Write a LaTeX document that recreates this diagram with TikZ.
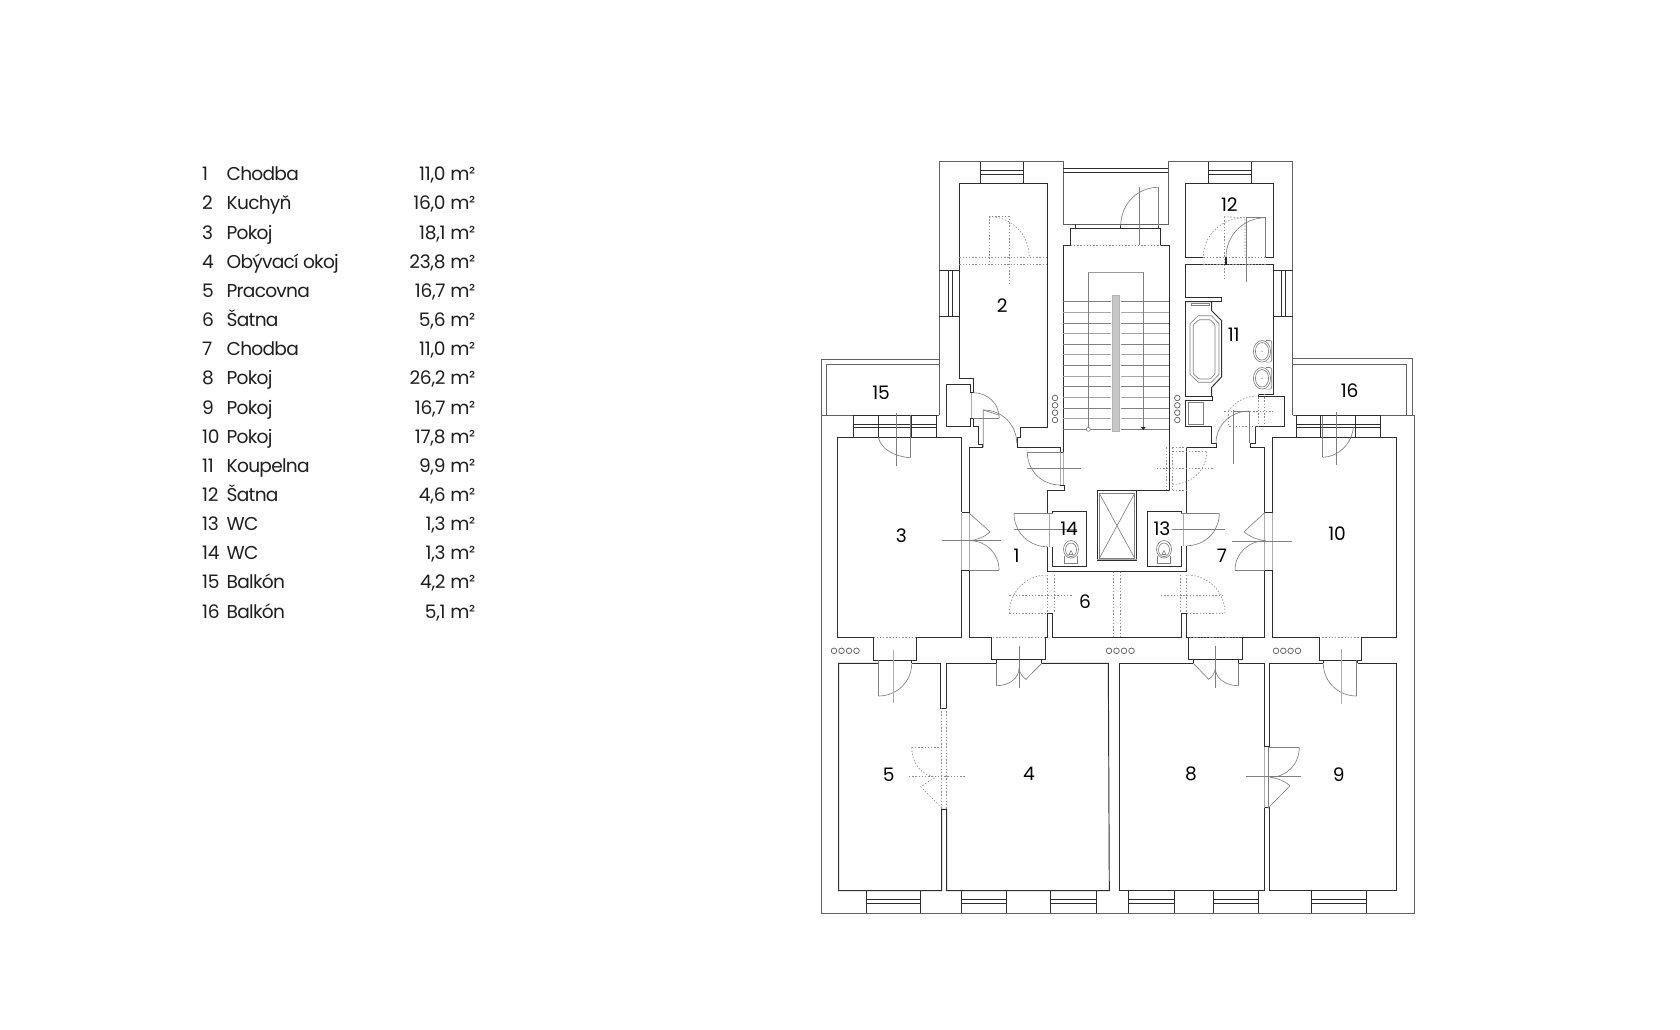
\documentclass[tikz,border=0pt]{standalone}
\usepackage{fontspec}
\setmainfont{Poppins}[LetterSpace=-1.5]
\newfontfamily\namefont{Poppins}[LetterSpace=-4]
\usetikzlibrary{calc}
\tikzset{
 wall/.style={draw=black!82,line width=0.95pt,line join=miter},
 thin wall/.style={draw=black!62,line width=0.85pt},
 dr/.style={draw=black!50,line width=0.65pt},
 drlight/.style={draw=black!32,line width=0.9pt},
 dot/.style={draw=black!45,line width=0.65pt,dash pattern=on 1.4pt off 1.8pt},
 listtxt/.style={inner sep=0pt,font=\fontsize{18.6}{20}\selectfont,text=black!88},
 num/.style={inner sep=0pt,font=\fontsize{18.6}{20}\selectfont,text=black},
 vent/.style={draw=black!65,line width=0.7pt}
}
% quarter arc: start, corner, end
\newcommand{\qa}[4]{\draw[#1] (#2) .. controls ($(#2)!.56!(#3)$) and ($(#4)!.56!(#3)$) .. (#4);}
\newcommand{\listrow}[4]{%
 \node[listtxt,anchor=base west] (n#1) at (202,#4) {#1};
 \node[listtxt,anchor=base west] (t#1) at (226.5,#4) {\namefont #2};
 \node[listtxt,anchor=base east] (a#1) at (475.5,#4) {#3 m²};}
\begin{document}
\begin{tikzpicture}[x=1pt,y=-1pt]
\useasboundingbox[fill=white] (0,0) rectangle (1680,1029);
% legend
\listrow{1}{Chodba}{11,0}{180.7}
\listrow{2}{Kuchyň}{16,0}{209.9}
\listrow{3}{Pokoj}{18,1}{239.0}
\listrow{4}{Obývací okoj}{23,8}{268.2}
\listrow{5}{Pracovna}{16,7}{297.3}
\listrow{6}{Šatna}{5,6}{326.5}
\listrow{7}{Chodba}{11,0}{355.7}
\listrow{8}{Pokoj}{26,2}{384.8}
\listrow{9}{Pokoj}{16,7}{414.0}
\listrow{10}{Pokoj}{17,8}{443.1}
\listrow{11}{Koupelna}{9,9}{472.3}
\listrow{12}{Šatna}{4,6}{501.5}
\listrow{13}{WC}{1,3}{530.6}
\listrow{14}{WC}{1,3}{559.8}
\listrow{15}{Balkón}{4,2}{588.9}
\listrow{16}{Balkón}{5,1}{618.1}
% ---------- outer shell
\draw[thin wall] (939.3,415) -- (939.3,161.7) -- (1063.3,161.7) -- (1063.3,224) -- (1168.3,224) -- (1168.3,161.7) -- (1292.5,161.7) -- (1292.5,415);
\draw[thin wall] (821,415) -- (821,359) -- (940,359);
\draw[thin wall] (826,415) -- (826,364.7) -- (940,364.7);
\draw[thin wall] (1292.5,358.7) -- (1412.7,358.7) -- (1412.7,415);
\draw[thin wall] (1292.5,364) -- (1406.7,364) -- (1406.7,415);
\draw[thin wall] (821,415) -- (821,913.3) -- (1414,913.3) -- (1414,415) -- (1380,415);
\draw[thin wall] (821,415) -- (853.3,415) (936.7,415) -- (939.3,415);
\draw[thin wall] (1292.5,415) -- (1296.7,415);
\draw[wall] (1063.3,168.3) -- (1168.3,168.3);
\draw[wall] (1063.3,172.3) -- (1168.3,172.3);
% ---------- windows (top)
\foreach \xa/\xb in {980.7/1023.3,1208.3/1251.7}{
 \draw[wall] (\xa,161.7) -- (\xa,183.7) (\xb,161.7) -- (\xb,183.7);
 \draw[wall] (\xa,170.7) -- (\xb,170.7) (\xa,174) -- (\xb,174);
}
% windows (tower sides)
\foreach \xa/\xb/\xc/\xd in {939.3/959.3/948.3/952.3,1273.3/1292.5/1281.7/1285.7}{
 \draw[wall] (\xa,270) -- (\xb,270) (\xa,316) -- (\xb,316);
 \draw[wall] (\xc,270) -- (\xc,316) (\xd,270) -- (\xd,316);
}
% balcony windows
\draw[wall] (853.3,415) rectangle (936.7,437.3);
\draw[wall] (878.3,415) -- (878.3,437.3) (911.7,415) -- (911.7,437.3);
\draw[wall] (853.3,424.7) -- (936.7,424.7) (853.3,427.7) -- (936.7,427.7);
\draw[wall] (1296.7,415) rectangle (1380,437.3);
\draw[wall] (1320.7,415) -- (1320.7,437.3) (1355,415) -- (1355,437.3);
\draw[wall] (1296.7,424.3) -- (1380,424.3) (1296.7,427.3) -- (1380,427.3);
% bottom windows
\foreach \xa/\xb in {866/920.7,961.7/1006.7,1050.7/1096,1128.3/1174,1213.3/1258.3,1311.7/1366}{
 \draw[wall] (\xa,890.7) -- (\xa,913.3) (\xb,890.7) -- (\xb,913.3);
 \draw[wall] (\xa,899.3) -- (\xb,899.3) (\xa,903.3) -- (\xb,903.3);
}
% ---------- kitchen
\draw[wall] (973.3,392.7) -- (973.3,378.5) -- (959.3,378.5) -- (959.3,183.7) -- (1047.3,183.7) -- (1047.3,427) -- (1020.7,427) -- (1020.7,437.3) -- (1017,437.3) -- (1017,447.3) -- (1060,447.3) -- (1060,452);
\draw[wall] (973.3,392.7) -- (970,392.7) -- (970,384.3) -- (946,384.3) -- (946,426.3) -- (970,426.3) -- (970,418.3) -- (973.3,418.3) -- (973.3,426.3) -- (978.3,426.3) -- (978.3,444) -- (982.7,444) -- (982.7,447.3) -- (969.3,447.3) -- (969.3,512.3) -- (961.7,512.3);
\draw[dot] (959.3,257.3) -- (1047.3,257.3) (959.3,264.3) -- (1047.3,264.3);
\draw[dot] (1009.3,216.7) -- (989.3,216.7) -- (989.3,264.3);
\draw[dot] (1009.3,215.7) -- (1009.3,286);
\qa{dot}{989.3,216.7}{1029.3,216.7}{1029.3,257.3}
% kitchen doors
\draw[drlight] (971.6,392.7) -- (971.6,418.3);
\qa{dr}{973.3,392.7}{999.3,392.7}{999.3,418.3}
\draw[dr] (973.3,418.3) -- (999.3,418.3);
\qa{dr}{983.3,410}{1016.7,410}{1016.7,443.3}
\draw[dr] (983.3,447.3) -- (983.3,410) -- (999,415);
% ---------- room 3
\draw[wall] (961.7,512.3) -- (961.7,437.3) -- (837,437.3) -- (837,637.3) -- (873.3,637.3);
\draw[wall] (916,637.3) -- (961.7,637.3) -- (961.7,570) -- (969.3,570) -- (969.3,637.3) -- (991.7,637.3);
\draw[dot] (873.3,637.3) -- (916,637.3);
\draw[drlight] (961.7,513.3) -- (961.7,570) (969.3,513.3) -- (969.3,570);
\draw[dr] (969.3,513.3) -- (990,531.7) .. controls (985,537) and (976,540) .. (970,540.7);
\qa{dr}{970,540.7}{999,540.7}{999,570}
\draw[dr] (969.3,570) -- (999,570);
\draw[dr] (941.7,540.7) -- (1000.7,540.7);
% balcony 15 door
\draw[dr] (910,415) -- (910,457.7);
\draw[dr] (878.3,437.3) .. controls (881,449) and (894,456.5) .. (910,457.7);
\draw[dr] (896.7,412.7) -- (896.7,465.7);
% ---------- room 10
\draw[wall] (1272,512.7) -- (1272,437.3) -- (1396.7,437.3) -- (1396.7,637.3) -- (1361,637.3);
\draw[wall] (1319,637.3) -- (1272,637.3) -- (1272,570) -- (1264.7,570) -- (1264.7,637.3) -- (1242.3,637.3);
\draw[wall] (1272,512.7) -- (1264.7,512.7) -- (1264.7,447.3) -- (1250,447.3) -- (1250,443.3) -- (1255.3,443.3) -- (1255.3,426) -- (1284,426) -- (1284,396.7) -- (1258.7,396.7) -- (1258.7,394) -- (1273.3,394) -- (1273.3,264.7) -- (1226,264.7);
\draw[dot] (1319,637.3) -- (1361,637.3);
\draw[drlight] (1264.7,513.3) -- (1264.7,570) (1272,513.3) -- (1272,570);
\draw[dr] (1264.7,512.7) -- (1244,531.7) .. controls (1250,537) and (1258,540) .. (1265.7,540.7);
\qa{dr}{1265.7,540.7}{1235,540.7}{1235,570}
\draw[dr] (1235,570) -- (1264.7,570);
\draw[dr] (1232.3,541.3) -- (1292,541.3);
% balcony 16 door
\draw[dr] (1322.7,416) -- (1322.7,457.3);
\draw[dr] (1322.7,457.3) .. controls (1338,457) and (1352,444) .. (1353.3,427.3);
\draw[dr] (1336.7,412.3) -- (1336.7,465);
% ---------- centre: corridors, WC, shaft
\draw[wall] (1063.3,245) -- (1063.3,452) -- (1060,452);
\draw[wall] (1060,485) -- (1064,485) -- (1064,490.7) -- (1047.3,490.7) -- (1047.3,513.3);
\draw[wall] (1047.3,546.7) -- (1047.3,571.7) -- (1186.7,571.7) -- (1186.7,545.7);
\draw[wall] (1186.7,513.3) -- (1186.7,447.3) -- (1216,447.3) -- (1216,443.3) -- (1211.7,443.3) -- (1211.7,426) -- (1185.7,426) -- (1185.7,400.7) -- (1212.3,400.7) -- (1212.3,396.7) -- (1185.3,396.7) -- (1185.3,301.7) -- (1221.7,301.7) -- (1221.7,297.3) -- (1185.3,297.3) -- (1185.3,264.7) -- (1226,264.7);
\draw[wall] (1169.3,245) -- (1169.3,490) -- (1136.7,490) -- (1136.7,560.7) -- (1097.3,560.7) -- (1097.3,490.7) -- (1136.7,490.7);
\draw[wall] (1052.7,513.3) -- (1052.7,511.3) -- (1086.7,511.3) -- (1086.7,566.7) -- (1052.7,566.7) -- (1052.7,546.7);
\draw[wall] (1181,513.3) -- (1181,511.3) -- (1147.3,511.3) -- (1147.3,566.7) -- (1181,566.7) -- (1181,545.7);
% shaft
\draw[dr] (1099.3,493.3) rectangle (1134.7,558.3);
\draw[dr] (1099.3,493.3) -- (1134.7,558.3) (1134.7,493.3) -- (1099.3,558.3);
\draw[drlight] (1097.3,559.5) -- (1136.7,559.5);
% WC doors
\draw[drlight] (1049.8,513.3) -- (1049.8,546.7);
\draw[dr] (1014,513.3) -- (1052.7,513.3);
\qa{dr}{1014,513.3}{1014,546.7}{1047.3,546.7}
\draw[dr] (1014,529.3) -- (1076.7,529.3);
\draw[drlight] (1183.8,513.3) -- (1183.8,545.7);
\draw[dr] (1181,513.3) -- (1219.3,513.3);
\qa{dr}{1219.3,513.3}{1219.3,545.7}{1186.7,545.7}
\draw[dr] (1171.7,529.3) -- (1225,529.3);
% toilets
\foreach \cx in {1071,1164}{
 \draw[dr] (\cx,549.3) ellipse (7.5 and 8.8);
 \draw[dr] (\cx,549.8) ellipse (5.5 and 6.8);
 \draw[dr] (\cx-6.8,556) -- (\cx-6.8,563) -- (\cx+6.8,563) -- (\cx+6.8,556);
 \draw[dr] (\cx-2,554.5) -- (\cx,550.5) -- (\cx+2,554.5) -- cycle;
}
% door stair-corridor left
\draw[drlight] (1060,452) -- (1060,485) (1063.3,452) -- (1063.3,485);
\draw[dr] (1027.3,452) -- (1060,452);
\qa{dr}{1027.3,452}{1027.3,485}{1060,485}
\draw[dr] (1026.7,468) -- (1080.7,468);
% door stair-corridor right, dotted
\draw[dot] (1166.7,447.3) -- (1166.7,490) (1172.7,447.3) -- (1172.7,490);
\draw[dot] (1172.7,447.3) -- (1186,447.3) (1172.7,490) -- (1186,490);
\draw[dot] (1172.7,451.7) -- (1206.7,451.7);
\qa{dot}{1206.7,451.7}{1206.7,484.3}{1172.7,484.3}
\draw[dot] (1156.7,468.3) -- (1212.7,468.3);
% room 6
\draw[wall] (1047.3,613.3) -- (1052.7,613.3) -- (1052.7,637.3) -- (1181,637.3) -- (1181,613.3) -- (1186.7,613.3) -- (1186.7,637.3) -- (1188.3,637.3);
\draw[wall] (1047.3,613.3) -- (1047.3,637.3) -- (1045,637.3);
\draw[wall] (1186.7,637.3) -- (1264.7,637.3);
\draw[dot] (1113.3,571.7) -- (1113.3,637.3) (1120,571.7) -- (1120,637.3);
\draw[dot] (1047.3,575) -- (1047.3,613.3) (1054,575) -- (1054,613.3);
\draw[dot] (1009.3,613.3) -- (1047.3,613.3);
\qa{dot}{1009.3,613.3}{1009.3,575}{1047.3,575}
\draw[dot] (1009.3,595) -- (1073.3,595);
\draw[dot] (1180,575) -- (1180,613.3) (1186.7,575) -- (1186.7,613.3);
\draw[dot] (1186.7,613.3) -- (1225,613.3);
\qa{dot}{1225,613.3}{1225,575}{1186.7,575}
\draw[dot] (1161,595) -- (1225,595);
% ---------- top balcony / stair head
\draw[wall] (1063.3,245) -- (1070.7,245) -- (1070.7,228.3) -- (1160.7,228.3) -- (1160.7,245) -- (1169.3,245);
\draw[wall] (1075,224) -- (1075,228.3) (1120,224) -- (1120,228.3) (1158.3,224) -- (1158.3,228.3);
\draw[dot] (1070.7,245) -- (1160.7,245);
\draw[dr] (1158.3,187.3) -- (1158.3,226);
\qa{dr}{1158.3,187.3}{1120.7,187.3}{1120.7,226}
\draw[dr] (1139.3,186.7) -- (1139.3,245);
% stairs
\foreach \i in {0,2,...,12}{\draw[dr] (1063.3,{301.7+10.63*\i}) -- (1169.3,{301.7+10.63*\i});}
\foreach \i in {1,3,...,11}{\draw[draw=black!35,line width=1.1pt] (1063.3,{301.7+10.63*\i}) -- (1169.3,{301.7+10.63*\i});}
\draw[dr] (1088.3,429.3) -- (1088.3,272.3);
\draw[draw=black!40,line width=0.8pt] (1088.3,272.3) -- (1143.3,272.3);
\draw[dr] (1143.3,272.3) -- (1143.3,427);
\fill[black!85] (1141,427) -- (1145.7,427) -- (1143.3,430) -- cycle;
\draw[dr,fill=white] (1088.3,429.3) circle (2);
\fill[white] (1111,295.7) rectangle (1121,431);
\draw[draw=black!30,fill=black!22,line width=0.5pt] (1112.7,295.7) rectangle (1119.3,431);
% circles
\foreach \yy in {398,405.3,412.7,420}{
 \draw[vent] (1055,\yy) circle (2.8);
 \draw[vent] (1177.3,\yy) circle (2.8);
}
\foreach \xx in {834,841.5,849,856.5,1109,1116.5,1124,1131.5,1276,1283.3,1290.6,1298}{
 \draw[vent] (\xx,650.8) circle (2.8);
}
% ---------- room 12 + bath
\draw[wall] (1203.3,257.3) -- (1185.3,257.3) -- (1185.3,183.7) -- (1273.3,183.7) -- (1273.3,257.3) -- (1265.7,257.3);
\draw[dot] (1203.3,257.3) -- (1265.7,257.3) (1203.3,264.7) -- (1265.7,264.7);
\draw[line width=1.3pt,draw=black!85] (1226,257.3) -- (1226,264.7);
\draw[dot] (1224,216.7) -- (1245,217.7) -- (1245,257.3);
\draw[dot] (1224,217) -- (1224,280.7);
\qa{dot}{1245,217.7}{1203.3,217.7}{1203.3,257.3}
\draw[dr] (1246.7,217.7) -- (1265.7,217.7) -- (1265.7,257.3);
\draw[dr] (1246.7,216.7) -- (1246.7,282.3);
\qa{dr}{1265.7,217.7}{1226,217.7}{1226,257.3}
% tub
\draw[wall] (1185.3,301.7) -- (1211.7,301.7) -- (1211.7,310.7) -- (1221.7,320.7) -- (1221.7,376.7) -- (1211.7,387.3) -- (1211.7,396.7);
\draw[dr] (1198.3,315.7) -- (1211.3,315.7) -- (1219,323.7) -- (1219,374.3) -- (1211.3,382.3) -- (1198.3,382.3) -- (1190,374.3) -- (1190,323.7) -- cycle;
\draw[dr,rounded corners=1pt] (1199,319.7) -- (1210.3,319.7) -- (1215,324.7) -- (1215,374) -- (1210.3,379) -- (1199,379) -- (1193.3,374) -- (1193.3,324.7) -- cycle;
\draw[dr] (1191.7,303.3) rectangle (1209.3,305.3);
\draw[dr] (1188.3,402.7) rectangle (1203.3,424.3);
% sinks
\foreach \cy in {351.3,378.3}{
 \draw[dr,rounded corners=2pt] (1266,\cy-10.8) -- (1271.7,\cy-10.8) -- (1271.7,\cy+10.8) -- (1266,\cy+10.8);
 \draw[dr] (1262,\cy) ellipse (8.6 and 10.8);
 \draw[dr] (1262,\cy) ellipse (6.6 and 8.8);
 \fill[black!60] (1262,\cy) circle (0.6);
}
% room 11 door
\draw[dot] (1224.3,411) -- (1272.7,411);
\draw[dot] (1258.3,394) -- (1258.3,426) (1264,394) -- (1264,426);
\draw[dot] (1228.3,411) -- (1228.3,426) -- (1258.3,426);
\draw[dot] (1228.3,411) .. controls (1235,402) and (1245,396) .. (1258.3,396);
\draw[dr] (1233.3,411) -- (1249.3,411) -- (1249.3,443.3);
\qa{dr}{1249.3,411}{1216,411}{1216,443.3}
\draw[dr] (1233.3,410) -- (1233.3,464);
% ---------- recesses
\draw[wall] (873.3,637.3) -- (873.3,660) -- (916,660) -- (916,637.3);
\draw[wall] (878,660) -- (878,663.3) (911.7,660) -- (911.7,663.3);
\draw[wall] (991.7,637.3) -- (991.7,659.3) -- (1045,659.3) -- (1045,637.3);
\draw[wall] (996,659.3) -- (996,663.3) (1041.7,659.3) -- (1041.7,663.3);
\draw[dot] (993,637.3) -- (1045,637.3);
\draw[wall] (1188.3,637.3) -- (1188.3,659.5) -- (1242.3,659.5) -- (1242.3,637.3);
\draw[wall] (1193.3,659.5) -- (1193.3,663.3) (1238.3,659.5) -- (1238.3,663.3);
\draw[dot] (1190,637.3) -- (1240,637.3);
\draw[wall] (1319,637.3) -- (1319,660) -- (1361,660) -- (1361,637.3);
\draw[wall] (1323,660) -- (1323,663.3) (1357.7,660) -- (1357.7,663.3);
% ---------- rooms 5,4,8,9
\draw[wall] (878,663.3) -- (838.7,663.3) -- (838.7,890.7) -- (941.7,890.7) -- (941.7,809.3) -- (946.7,809.3) -- (946.7,890.7) -- (1109.3,890.7) -- (1108.3,663.3) -- (1041.7,663.3);
\draw[wall] (996,663.3) -- (946.7,663.3) -- (946.7,708) -- (940.7,708) -- (940.7,663.3) -- (911.7,663.3);
\draw[wall] (1193.3,663.3) -- (1119.3,663.3) -- (1119.3,890.7) -- (1264,890.7) -- (1264,807.7) -- (1269.3,807.7) -- (1269.3,890.7) -- (1396.7,890.7) -- (1396.7,663.3) -- (1357.7,663.3);
\draw[wall] (1323,663.3) -- (1269.3,663.3) -- (1269.3,746.7) -- (1264,746.7) -- (1264,663.3) -- (1238.3,663.3);
% door 5 top
\draw[dr] (878.3,660) -- (878.3,696);
\qa{dr}{878.3,696}{911.7,696}{911.7,663.3}
\draw[drlight] (893,650) -- (893,703.3);
% door 4 top
\draw[dr] (996.7,663.3) -- (996.7,685.7);
\qa{dr}{996.7,685.7}{1019,685.7}{1019,668.3}
\draw[dr] (1041.7,663.3) -- (1026,679.3) .. controls (1022.5,677) and (1019.5,673) .. (1019,668.3);
\draw[dr] (1019,646) -- (1019,687.7);
% door 8 top
\draw[dr] (1238.3,663.3) -- (1238.3,685.7);
\qa{dr}{1238.3,685.7}{1215.3,685.7}{1215.3,668.3}
\draw[dr] (1193.3,663.3) -- (1208.7,679.3) .. controls (1212,677) and (1215,673) .. (1215.3,668.3);
\draw[dr] (1215.3,646) -- (1215.3,687.7);
% door 9 top
\draw[dr] (1356.7,660) -- (1356.7,696);
\qa{dr}{1356.7,696}{1323.3,696}{1323.3,663.3}
\draw[drlight] (1341,649.3) -- (1341,704);
% door 5/4 dotted
\draw[dot] (941,708) -- (941,809.3) (946.7,708) -- (946.7,809.3);
\draw[dot] (911.7,747.3) -- (941,747.3);
\qa{dot}{911.7,747.3}{911.7,776.7}{936,776.7}
\draw[dot] (941.7,808) -- (920.7,786.7) -- (936,776.7);
\draw[dot] (909,776.7) -- (965,776.7);
% door 8/9
\draw[drlight] (1264.5,746.7) -- (1264.5,807.7);
\draw[dr] (1268,746.7) -- (1268,807.7);
\draw[dr] (1268,747.3) -- (1299.3,747.3);
\qa{dr}{1299.3,747.3}{1299.3,777.3}{1270,777.3}
\draw[dr] (1268,808.3) -- (1290,785.7) .. controls (1285,781) and (1277,778) .. (1270,777.3);
\draw[dr] (1246,776.7) -- (1300.7,776.7);
% ---------- room numbers
\node[num] (r1) at (1016.7,555.7) {1};
\node[num] (r2) at (1002.3,306) {2};
\node[num] (r3) at (901.3,535.7) {3};
\node[num] (r4) at (1029,774.3) {4};
\node[num] (r5) at (888.7,774.3) {5};
\node[num] (r6) at (1085,601.7) {6};
\node[num] (r7) at (1222,555.7) {7};
\node[num] (r8) at (1191,774.3) {8};
\node[num] (r9) at (1338.7,774.3) {9};
\node[num] (r10) at (1337,534) {10};
\node[num] (r11) at (1233.7,335) {11};
\node[num] (r12) at (1229.3,205) {12};
\node[num] (r13) at (1162,529) {13};
\node[num] (r14) at (1069,529) {14};
\node[num] (r15) at (881,392.7) {15};
\node[num] (r16) at (1349.7,390.7) {16};
\end{tikzpicture}
\end{document}
